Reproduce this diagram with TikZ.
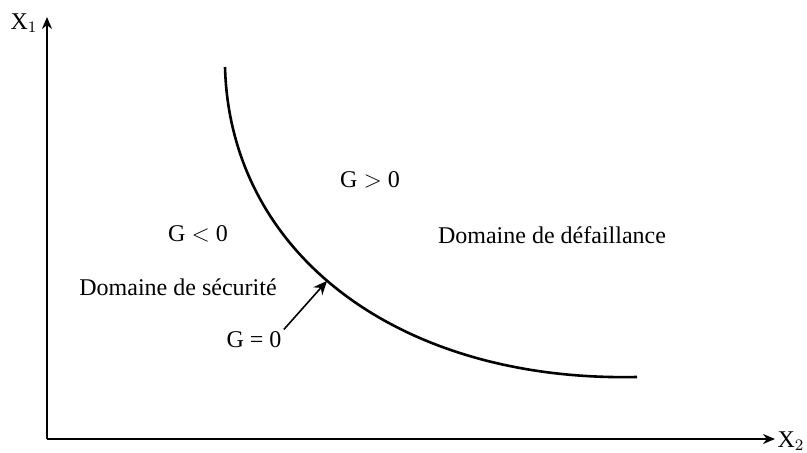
\documentclass[tikz,border=0pt]{standalone}
\usepackage{fontspec}
\setmainfont{Liberation Serif}
\usetikzlibrary{arrows.meta}

\begin{document}
\begin{tikzpicture}[x=0.5pt, y=-0.5pt,
      font=\fontsize{12}{14}\selectfont,
      axe/.style={line width=1pt, -{Stealth[length=6pt, width=5pt]}},
      seuil/.style={line width=1.3pt},
      lbl/.style={inner sep=1pt},
      every node/.style={align=center}]
    \useasboundingbox (0,0) rectangle (807,453);
    % axes
    \coordinate (o) at (47,439);
    \coordinate (ytop) at (47,17);
    \coordinate (xend) at (775,439);
    \draw[axe] (o) -- (ytop);
    \draw[axe] (o) -- (xend);
    \node[lbl] (x1) at (24,23) {X$_1$};
    \node[lbl] (x2) at (791,441) {X$_2$};
    % etat limite G = 0
    \coordinate (deb) at (225,67);
    \coordinate (fin) at (637,377);
    \draw[seuil] (deb) .. controls (230,255) and (400,382) .. (fin)
      coordinate[pos=0.46] (pt);
    % textes
    \node[lbl] (gpos) at (370,180) {G $>$ 0};
    \node[lbl] (gneg) at (198,234) {G $<$ 0};
    \node[lbl] (dsec) at (178,287) {Domaine de sécurité};
    \node[lbl] (ddef) at (552,235) {Domaine de défaillance};
    \node[lbl] (gnul) at (254,340) {G = 0};
    \draw[line width=0.8pt, -{Stealth[length=7pt, width=6pt]}] (gnul.north east) -- (pt);
  \end{tikzpicture}
\end{document}
